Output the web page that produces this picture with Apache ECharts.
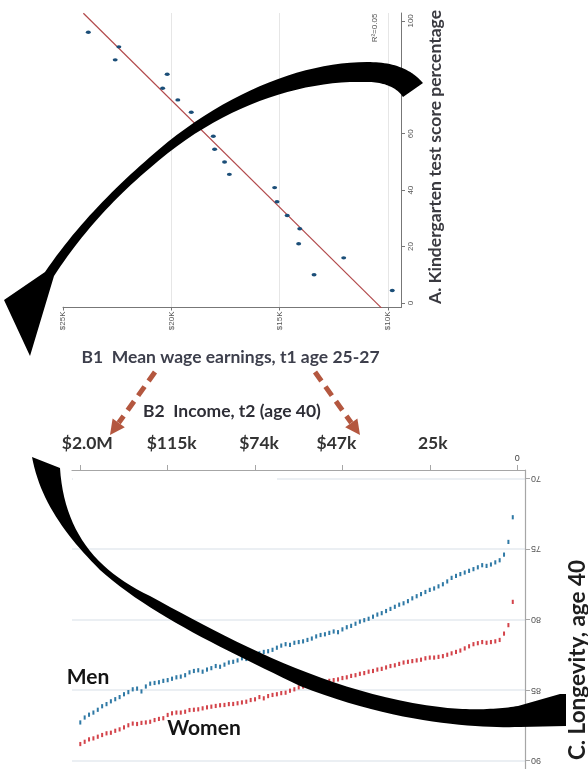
<!DOCTYPE html>
<html><head><meta charset="utf-8">
<script src="https://cdn.jsdelivr.net/npm/echarts@6.0.0/dist/echarts.min.js"></script>
<style>html,body{margin:0;padding:0;background:#fff}#c{width:588px;height:769px}</style>
</head><body><div id="c"></div>
<script>
// ---------- Panel A: earnings vs kindergarten score ----------
const earningsTicks = [10000, 15000, 20000, 25000];
const earningsTickLabels = ['$10K', '$15K', '$20K', '$25K'];
const scoreTicks = [0, 20, 40, 60, 80, 100];
const kgScore = [96.0, 90.8, 86.2, 81.1, 76.1, 72.0, 67.6, 59.1, 54.5, 50.0, 45.6, 40.9, 35.9, 31.0, 26.3, 21.0, 16.0, 10.0, 4.4];
const kgEarnings = [23830, 22420, 22590, 20190, 20400, 19700, 19080, 18060, 18000, 17540, 17320, 15230, 15120, 14650, 14070, 14120, 12040, 13410, 9800];
const fitEarnings = [10290, 24060];
const fitScore = [-1.8, 102.7];
const r2Text = 'R²=0.05';

// ---------- Panel C: longevity by income percentile ----------
const incomeTicks = [0, 20, 40, 60, 80, 100];
const incomeTickLabels = ['0', '25k', '$47k', '$74k', '$115k', '$2.0M'];
const ageTicks = [70, 75, 80, 85, 90];
const incomePercentile = Array.from({length: 100}, (_, i) => 100 - i);
const menLongevity = [
 87.3, 86.95, 86.75, 86.6, 86.4, 86.15, 86.0, 85.8, 85.65, 85.5,
 85.3, 85.15, 84.95, 84.9, 85.1, 84.75, 84.55, 84.5, 84.45, 84.35,
 84.3, 84.2, 84.1, 84.05, 83.95, 83.75, 83.65, 83.6, 83.7, 83.55,
 83.45, 83.3, 83.35, 83.2, 83.05, 83.0, 82.9, 82.75, 82.8, 82.6,
 82.5, 82.4, 82.3, 82.25, 82.15, 82.0, 81.85, 81.75, 81.8, 81.65,
 81.6, 81.55, 81.45, 81.35, 81.2, 81.1, 81.05, 80.95, 80.85, 80.9,
 80.7, 80.55, 80.45, 80.3, 80.15, 80.05, 79.95, 79.8, 79.65, 79.55,
 79.4, 79.25, 79.1, 78.95, 78.85, 78.7, 78.5, 78.35, 78.2, 78.05,
 77.9, 77.8, 77.65, 77.5, 77.3, 77.05, 76.91, 76.78, 76.67, 76.55,
 76.43, 76.3, 76.15, 76.2, 76.1, 75.95, 75.8, 75.4, 74.5, 72.75];
const womenLongevity = [
 88.83, 88.67, 88.5, 88.43, 88.31, 88.19, 88.07, 88.03, 87.89, 87.79,
 87.65, 87.5, 87.38, 87.41, 87.33, 87.3, 87.25, 87.13, 87.05, 87.0,
 86.77, 86.65, 86.6, 86.6, 86.54, 86.42, 86.4, 86.37, 86.3, 86.23,
 86.18, 86.13, 86.08, 86.06, 86.0, 85.99, 85.94, 85.88, 85.83, 85.71,
 85.66, 85.5, 85.59, 85.43, 85.35, 85.3, 85.22, 85.19, 85.05, 84.95,
 84.81, 84.75, 84.7, 84.6, 84.55, 84.5, 84.45, 84.35, 84.3, 84.25,
 84.15, 84.1, 84.0, 83.95, 83.85, 83.8, 83.7, 83.65, 83.55, 83.5,
 83.4, 83.3, 83.25, 83.15, 83.05, 83.0, 82.95, 82.9, 82.85, 82.75,
 82.7, 82.7, 82.65, 82.6, 82.5, 82.4, 82.3, 82.2, 82.05, 81.9,
 81.75, 81.68, 81.6, 81.65, 81.6, 81.55, 81.45, 81.0, 80.4, 78.75];

const ANN = 'Lato, "Open Sans", sans-serif';
const TICKF = '"Liberation Sans", Arial, sans-serif';

// turn a simple M/L/C/Z path into polygon points (decorative arrows)
function pathToPoints(d) {
  const tok = d.trim().split(/[\s,]+/);
  const pts = []; let i = 0, cx = 0, cy = 0, cmd = '';
  while (i < tok.length) {
    if (/[MLCZ]/.test(tok[i])) { cmd = tok[i++]; if (cmd === 'Z') continue; }
    if (cmd === 'M' || cmd === 'L') { cx = +tok[i++]; cy = +tok[i++]; pts.push([cx, cy]); }
    else if (cmd === 'C') {
      const x1 = +tok[i++], y1 = +tok[i++], x2 = +tok[i++], y2 = +tok[i++], x3 = +tok[i++], y3 = +tok[i++];
      for (let s = 1; s <= 24; s++) {
        const t = s / 24, u = 1 - t;
        pts.push([u*u*u*cx + 3*u*u*t*x1 + 3*u*t*t*x2 + t*t*t*x3, u*u*u*cy + 3*u*u*t*y1 + 3*u*t*t*y2 + t*t*t*y3]);
      }
      cx = x3; cy = y3;
    } else i++;
  }
  return pts;
}

function dashedArrow(x1, y1, x2, y2) {
  const dx = x2 - x1, dy = y2 - y1, L = Math.hypot(dx, dy);
  const ux = dx / L, uy = dy / L, hl = 15, hw = 7.5;
  const bx = x2 - ux * hl, by = y2 - uy * hl;
  return [
    {type: 'line', z: 50, shape: {x1, y1, x2: bx, y2: by},
     style: {stroke: '#b4573f', lineWidth: 5, lineDash: [11, 7]}},
    {type: 'polygon', z: 50, shape: {points: [[x2, y2], [bx - uy * hw, by + ux * hw], [bx + uy * hw, by - ux * hw]]},
     style: {fill: '#b4573f'}}
  ];
}

const arrowTop = 'M 423 83 C 410 68 392 62 367 62 C 300 62 220 95 150 157 C 110 192 75 228 45 272 L 4 300 L 30 356 L 54 276 C 80 236 112 200 150 168 C 220 106 300 80 367 82 C 385 82 397 88 403 97 Z';
const arrowBottom = 'M 32 457 L 60 468 C 64 530 95 570 150 596 C 230 640 330 694 440 707 C 470 711 500 709 518 706 L 560 694 L 566 694 L 566 726 L 520 727 C 480 728 400 725 300 686 C 230 652 150 615 100 570 C 65 535 40 500 32 457 Z';

// rich styles nudging the big income labels to where they sit in the figure
const bigLbl = {fontSize: 17.5, fontWeight: 'bold', color: '#333', fontFamily: ANN};
const bigRich = {
  r14: Object.assign({padding: [0, 0, 0, 14]}, bigLbl),
  r8: Object.assign({padding: [0, 0, 0, 8]}, bigLbl),
  r6: Object.assign({padding: [0, 0, 0, 6]}, bigLbl),
  l12: Object.assign({padding: [0, 12, 0, 0]}, bigLbl)
};
const bigStyleKey = {100: 'r14', 80: 'r8', 60: 'r8', 40: 'l12', 20: 'r6'};

const chart = echarts.init(document.getElementById('c'), null, {renderer: 'canvas'});
chart.setOption({
  animation: false,
  backgroundColor: '#fff',
  grid: [
    {left: 63, right: 187, top: 13, bottom: 461.5},
    {left: 72, right: 63, top: 470, bottom: 0}
  ],
  xAxis: [
    {gridIndex: 0, type: 'value', inverse: true, min: 9395, max: 25000, position: 'bottom',
     axisLine: {show: true, onZero: false, lineStyle: {color: '#777', width: 1}},
     axisTick: {show: true, customValues: earningsTicks, length: 3, lineStyle: {color: '#777'}},
     axisLabel: {customValues: earningsTicks, rotate: 90, fontSize: 8, color: '#555', margin: 4, fontFamily: TICKF,
       formatter: v => earningsTickLabels[earningsTicks.indexOf(v)]},
     splitLine: {show: true, lineStyle: {color: '#e6e6e6', width: 1}}},
    {gridIndex: 1, type: 'value', inverse: true, min: -1.8, max: 101.9, position: 'top',
     axisLine: {show: true, onZero: false, lineStyle: {color: '#a6a6a6', width: 1.2}},
     axisTick: {show: true, customValues: incomeTicks, length: 5, lineStyle: {color: '#a6a6a6'}},
     axisLabel: {customValues: [0], fontSize: 9, color: '#444', margin: 7, fontFamily: TICKF,
       formatter: v => incomeTickLabels[incomeTicks.indexOf(v)]},
     splitLine: {show: false}},
    {gridIndex: 1, type: 'value', inverse: true, min: -1.8, max: 101.9, position: 'top',
     axisLine: {show: false}, axisTick: {show: false},
     axisLabel: {customValues: [20, 40, 60, 80, 100], margin: 18, rich: bigRich,
       formatter: v => '{' + bigStyleKey[v] + '|' + incomeTickLabels[incomeTicks.indexOf(v)] + '}'},
     splitLine: {show: false}}
  ],
  yAxis: [
    {gridIndex: 0, type: 'value', min: -1.6, max: 102.8, position: 'right',
     axisLine: {show: true, onZero: false, lineStyle: {color: '#777', width: 1}},
     axisTick: {show: true, customValues: scoreTicks, length: 4, lineStyle: {color: '#777'}},
     axisLabel: {customValues: scoreTicks, rotate: 90, fontSize: 8, color: '#555', margin: 6, fontFamily: TICKF},
     splitLine: {show: false}},
    {gridIndex: 1, type: 'value', inverse: true, min: 69.4, max: 90.6, position: 'right',
     axisLine: {show: true, onZero: false, lineStyle: {color: '#a6a6a6', width: 1.2}},
     axisTick: {show: true, customValues: ageTicks, length: 5, lineStyle: {color: '#a6a6a6'}},
     axisLabel: {customValues: ageTicks, rotate: 180, fontSize: 9, color: '#555', margin: 6, fontFamily: TICKF},
     splitLine: {show: true, lineStyle: {color: '#e5eaef', width: 1.5}}}
  ],
  series: [
    {type: 'line', xAxisIndex: 0, yAxisIndex: 0, symbol: 'none', z: 3,
     data: fitEarnings.map((e, i) => [e, fitScore[i]]),
     lineStyle: {color: '#b24a4c', width: 1.2}},
    {type: 'scatter', xAxisIndex: 0, yAxisIndex: 0, symbol: 'circle', symbolSize: [5, 3.4], z: 4,
     data: kgEarnings.map((e, i) => [e, kgScore[i]]),
     itemStyle: {color: '#1b4e78', opacity: 1}},
    {type: 'scatter', name: 'Men', xAxisIndex: 1, yAxisIndex: 1, symbol: 'rect', symbolSize: [2, 4.2],
     data: incomePercentile.map((p, i) => [p, menLongevity[i]]),
     itemStyle: {color: '#2f79a5', opacity: 1}},
    {type: 'scatter', name: 'Women', xAxisIndex: 1, yAxisIndex: 1, symbol: 'rect', symbolSize: [2, 4.2],
     data: incomePercentile.map((p, i) => [p, womenLongevity[i]]),
     itemStyle: {color: '#d3434a', opacity: 1}}
  ],
  graphic: [
    // the 70 gridline is hidden under the label band on its left part
    {type: 'rect', z: 1, shape: {x: 73, y: 475, width: 204, height: 7}, style: {fill: '#fff'}},
    // no gridline drawn at the $25K edge in panel A
    {type: 'rect', z: 1, shape: {x: 61.5, y: 10, width: 3, height: 296}, style: {fill: '#fff'}},
    {type: 'text', z: 40, x: 375, y: 28, rotation: Math.PI / 2,
     style: {text: r2Text, fontSize: 8, fill: '#555', align: 'center', verticalAlign: 'middle', fontFamily: TICKF}},
    {type: 'text', z: 40, x: 435, y: 157, rotation: Math.PI / 2,
     style: {text: 'A. Kindergarten test score percentage', fontSize: 17.5, fontWeight: 'bold', fill: '#3a3a40',
       align: 'center', verticalAlign: 'middle', fontFamily: ANN}},
    {type: 'text', z: 40, x: 230.5, y: 357,
     style: {text: 'B1  Mean wage earnings, t1 age 25-27', fontSize: 17.5, fontWeight: 'bold', fill: '#3d3f4c',
       align: 'center', verticalAlign: 'middle', fontFamily: ANN}},
    {type: 'text', z: 40, x: 232, y: 411,
     style: {text: 'B2  Income, t2 (age 40)', fontSize: 17.5, fontWeight: 'bold', fill: '#2e2e36',
       align: 'center', verticalAlign: 'middle', fontFamily: ANN}},
    {type: 'text', z: 40, x: 88, y: 677,
     style: {text: 'Men', fontSize: 21, fontWeight: 'bold', fill: '#141414', align: 'center', verticalAlign: 'middle', fontFamily: ANN}},
    {type: 'text', z: 40, x: 204, y: 728,
     style: {text: 'Women', fontSize: 21, fontWeight: 'bold', fill: '#141414', align: 'center', verticalAlign: 'middle', fontFamily: ANN}},
    {type: 'text', z: 40, x: 578, y: 660, rotation: Math.PI / 2,
     style: {text: 'C. Longevity, age 40', fontSize: 22.5, fontWeight: 'bold', fill: '#1e1e1e', align: 'center', verticalAlign: 'middle', fontFamily: ANN}},
    {type: 'polygon', z: 60, shape: {points: pathToPoints(arrowTop)}, style: {fill: '#000'}},
    {type: 'polygon', z: 60, shape: {points: pathToPoints(arrowBottom)}, style: {fill: '#000'}},
    ...dashedArrow(155, 372, 110, 435),
    ...dashedArrow(315, 372, 360, 435)
  ]
});
</script></body></html>
